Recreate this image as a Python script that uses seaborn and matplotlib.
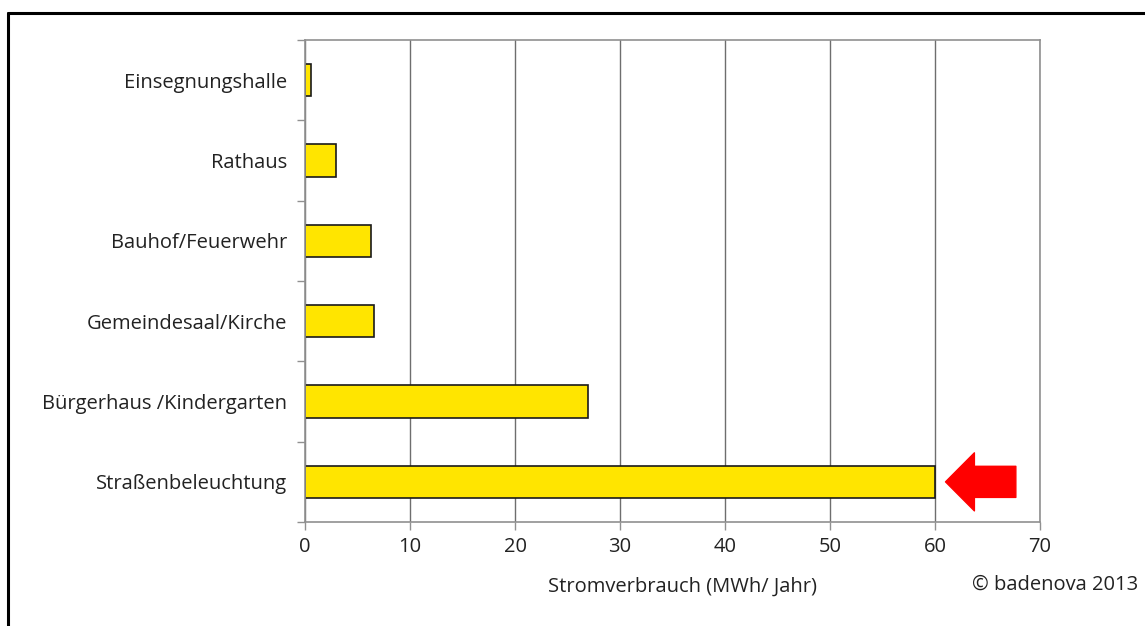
import matplotlib
matplotlib.use("Agg")
import matplotlib.pyplot as plt
import seaborn as sns
import pandas as pd
from matplotlib.lines import Line2D

categories = ["Einsegnungshalle", "Rathaus", "Bauhof/Feuerwehr",
              "Gemeindesaal/Kirche", "Bürgerhaus /Kindergarten", "Straßenbeleuchtung"]
values = [0.55, 2.95, 6.3, 6.6, 26.95, 60.0]
x_ticks = [0, 10, 20, 30, 40, 50, 60, 70]
x_label = "Stromverbrauch (MWh/ Jahr)"
credit = "© badenova 2013"

sns.set_theme(style="white")
plt.rcParams['font.family'] = ['Open Sans', 'DejaVu Sans']

df = pd.DataFrame({"Kategorie": categories, "Wert": values})

fig = plt.figure(figsize=(11.45, 6.26), dpi=100)
ax = fig.add_axes([0.2664, 0.1661, 0.6419, 0.7700])

sns.barplot(data=df, x="Wert", y="Kategorie", orient="h", ax=ax,
            color="#FFE500", edgecolor="#1a1a1a", linewidth=1.2, width=0.4,
            saturation=1)

fs = 14.5
ax.set_xlim(0, 70)
ax.set_ylim(5.5, -0.5)
ax.set_xticks(x_ticks)
ax.set_xticklabels([str(t) for t in x_ticks], fontsize=fs, color="#222222")
ax.set_yticks(range(len(categories)))
ax.set_yticklabels(categories, fontsize=fs, color="#222222")
ax.set_yticks([i - 0.5 for i in range(len(categories) + 1)], minor=True)
ax.tick_params(axis="y", which="major", length=0, pad=13)
ax.tick_params(axis="y", which="minor", length=6, width=1, color="#909090", direction="out", left=True)
ax.tick_params(axis="x", which="major", length=6, width=1, color="#909090", direction="out", bottom=True, pad=5)
ax.set_axisbelow(True)
ax.grid(axis="x", color="#6e6e6e", linewidth=1)
ax.grid(axis="y", visible=False)
for s in ax.spines.values():
    s.set_visible(True)
    s.set_color("#909090")
    s.set_linewidth(1.2)
ax.set_ylabel("")
ax.set_xlabel(x_label, fontsize=fs, color="#222222", labelpad=14)
ax.xaxis.label.set_x(0.514)

# red arrow pointing at Straßenbeleuchtung
ax.annotate("", xy=(61.0, 5), xytext=(67.7, 5),
            arrowprops=dict(arrowstyle="simple,head_length=1.04,head_width=2.09,tail_width=1.12",
                            color="#ff0000", shrinkA=0, shrinkB=0, mutation_scale=20))

fig.text(0.994, 1 - 585 / 626, credit, ha="right", va="center", fontsize=fs, color="#222222")

# page border lines
fig.add_artist(Line2D([0.007, 1.0], [0.979, 0.979], transform=fig.transFigure, color="black", linewidth=2.2))
fig.add_artist(Line2D([0.007, 0.007], [0.0, 0.979], transform=fig.transFigure, color="black", linewidth=2.2))

fig.savefig("out.png", dpi=100)
